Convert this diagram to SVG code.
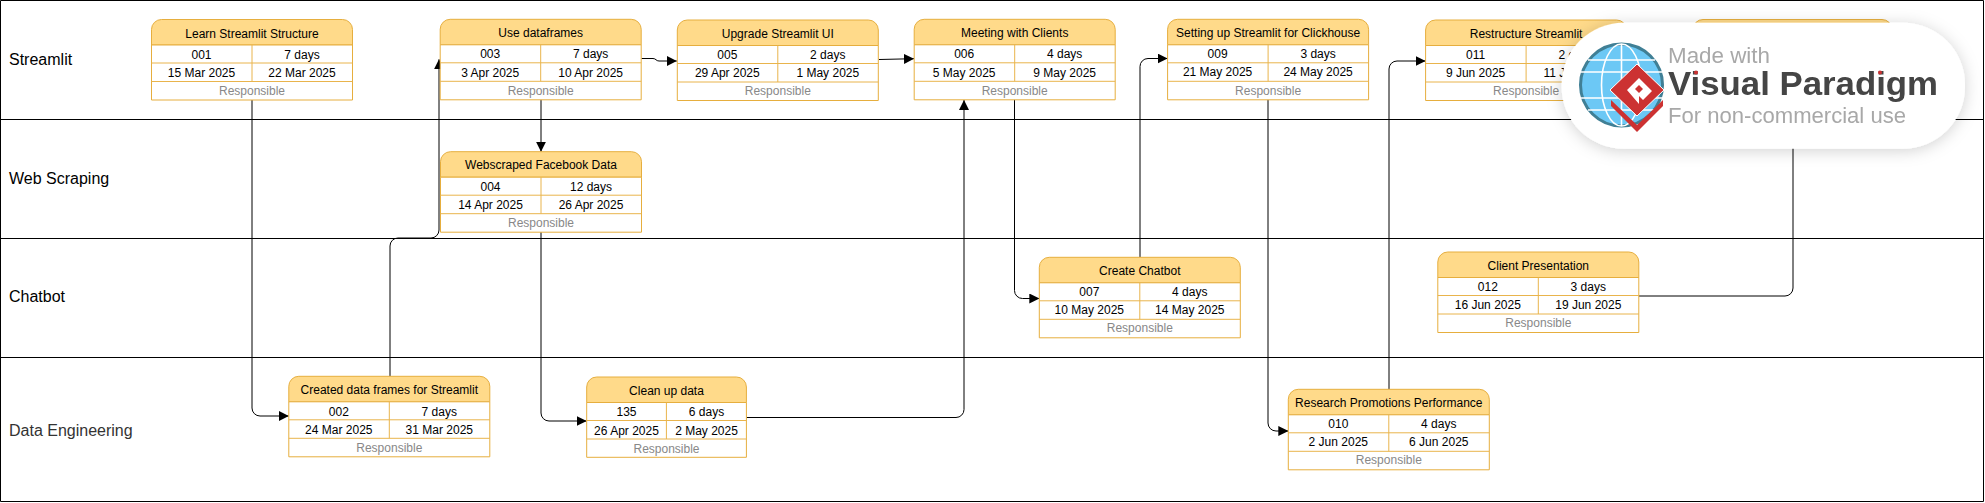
<svg xmlns="http://www.w3.org/2000/svg" width="1985" height="503" viewBox="0 0 1985 503">
<style>
text{font-family:"Liberation Sans",Arial,sans-serif;font-size:12px;fill:#000;text-anchor:middle}
.lane{font-size:16px;text-anchor:start}
.lane2{font-size:16px;text-anchor:start;fill:#333}
.resp{fill:#888}
.hd{fill:#ffda8a;stroke:#e6ae3e;stroke-width:1}
.bd{fill:#fff;stroke:#e6ae3e;stroke-width:1}
.dv{fill:none;stroke:#e9b44c;stroke-width:1}
.sl{fill:none;stroke:#000;stroke-width:1}
.cn{fill:none;stroke:#000;stroke-width:1;marker-end:url(#arrow)}
.wm{text-anchor:start;fill:#a8a8a8;font-size:22px}
.wmb{text-anchor:start;fill:#444;font-size:34px;font-weight:700}
</style>
<defs>
<marker id="arrow" markerUnits="userSpaceOnUse" markerWidth="10" markerHeight="10" refX="10" refY="5" orient="auto"><path d="M0 0L10 5L0 10Z" fill="#000"/></marker>
<filter id="shadow" x="-10%" y="-25%" width="120%" height="150%"><feDropShadow dx="0" dy="2" stdDeviation="8" flood-color="#000" flood-opacity="0.18"/></filter>
<filter id="soft" x="-5%" y="-5%" width="110%" height="110%"><feGaussianBlur stdDeviation="0.6"/></filter>
</defs>
<rect width="1985" height="503" fill="#fff"/>
<g id="swimlanes">
<path class="sl" d="M0.5 0.5H1983.5V501.5H0.5ZM0.5 119.5H1983.5M0.5 238.5H1983.5M0.5 357.5H1983.5"/>
<text class="lane" x="9" y="65">Streamlit</text>
<text class="lane" x="9" y="184">Web Scraping</text>
<text class="lane" x="9" y="302">Chatbot</text>
<text class="lane2" x="9" y="436">Data Engineering</text>
</g>
<g id="connectors">
<path class="cn" d="M252 100V408a8 8 0 0 0 8 8H288.8"/>
<path class="cn" d="M390 376.3V246a8 8 0 0 1 8-8H431a8 8 0 0 0 8-8V59.3"/>
<path class="cn" d="M641.5 58.5H653C656 58.5 656 61 659 61H676.8"/>
<path class="cn" d="M879 59.5L914 58.7"/>
<path class="cn" d="M541 99.5V151.7"/>
<path class="cn" d="M541 232V413a8 8 0 0 0 8 8H586.7"/>
<path class="cn" d="M746.4 417.5H956a8 8 0 0 0 8-8V100"/>
<path class="cn" d="M1014.5 99.5V290.5a8 8 0 0 0 8 8H1039.3"/>
<path class="cn" d="M1140 257.3V66.5a8 8 0 0 1 8-8H1167.6"/>
<path class="cn" d="M1268 99.5V423a8 8 0 0 0 8 8H1288.3"/>
<path class="cn" d="M1389 389.3V69a8 8 0 0 1 8-8H1425.6"/>
<path class="cn" d="M1638.3 296H1785a8 8 0 0 0 8-8V100"/>
</g>
<g id="n001" transform="translate(151.5 19.5)">
<path class="hd" d="M0 25.5V10a10 10 0 0 1 10-10H191a10 10 0 0 1 10 10V25.5Z"/><path class="bd" d="M0 25.5H201V80.5H0Z"/><path class="dv" d="M100.5 25.5V62M0 43.5H201M0 62H201"/>
<text x="100.5" y="18.2">Learn Streamlit Structure</text><text x="50" y="39.2">001</text><text x="150.5" y="39.2">7 days</text><text x="50" y="57.2">15 Mar 2025</text><text x="150.5" y="57.2">22 Mar 2025</text><text class="resp" x="100.5" y="75.2">Responsible</text>
</g>
<g id="n003" transform="translate(440.2 19.3)">
<path class="hd" d="M0 25.5V10a10 10 0 0 1 10-10H191a10 10 0 0 1 10 10V25.5Z"/><path class="bd" d="M0 25.5H201V80.5H0Z"/><path class="dv" d="M100.5 25.5V62M0 43.5H201M0 62H201"/>
<text x="100.5" y="17.5">Use dataframes</text><text x="50" y="38.5">003</text><text x="150.5" y="38.5">7 days</text><text x="50" y="57.5">3 Apr 2025</text><text x="150.5" y="57.5">10 Apr 2025</text><text class="resp" x="100.5" y="75.5">Responsible</text>
</g>
<g id="n004" transform="translate(440.5 151.7)">
<path class="hd" d="M0 25.5V10a10 10 0 0 1 10-10H191a10 10 0 0 1 10 10V25.5Z"/><path class="bd" d="M0 25.5H201V80.5H0Z"/><path class="dv" d="M100.5 25.5V62M0 43.5H201M0 62H201"/>
<text x="100.5" y="17.5">Webscraped Facebook Data</text><text x="50" y="39">004</text><text x="150.5" y="39">12 days</text><text x="50" y="57">14 Apr 2025</text><text x="150.5" y="57">26 Apr 2025</text><text class="resp" x="100.5" y="75">Responsible</text>
</g>
<g id="n005" transform="translate(677.3 20)">
<path class="hd" d="M0 25.5V10a10 10 0 0 1 10-10H191a10 10 0 0 1 10 10V25.5Z"/><path class="bd" d="M0 25.5H201V80.5H0Z"/><path class="dv" d="M100.5 25.5V62M0 43.5H201M0 62H201"/>
<text x="100.5" y="18">Upgrade Streamlit UI</text><text x="50" y="39">005</text><text x="150.5" y="39">2 days</text><text x="50" y="57">29 Apr 2025</text><text x="150.5" y="57">1 May 2025</text><text class="resp" x="100.5" y="75">Responsible</text>
</g>
<g id="n006" transform="translate(914.2 19.3)">
<path class="hd" d="M0 25.5V10a10 10 0 0 1 10-10H191a10 10 0 0 1 10 10V25.5Z"/><path class="bd" d="M0 25.5H201V80.5H0Z"/><path class="dv" d="M100.5 25.5V62M0 43.5H201M0 62H201"/>
<text x="100.5" y="17.5">Meeting with Clients</text><text x="50" y="38.5">006</text><text x="150.5" y="38.5">4 days</text><text x="50" y="57.5">5 May 2025</text><text x="150.5" y="57.5">9 May 2025</text><text class="resp" x="100.5" y="75.5">Responsible</text>
</g>
<g id="n009" transform="translate(1167.6 19.3)">
<path class="hd" d="M0 25.5V10a10 10 0 0 1 10-10H191a10 10 0 0 1 10 10V25.5Z"/><path class="bd" d="M0 25.5H201V80.5H0Z"/><path class="dv" d="M100.5 25.5V62M0 43.5H201M0 62H201"/>
<text x="100.5" y="17.5">Setting up Streamlit for Clickhouse</text><text x="50" y="38.5">009</text><text x="150.5" y="38.5">3 days</text><text x="50" y="56.5">21 May 2025</text><text x="150.5" y="56.5">24 May 2025</text><text class="resp" x="100.5" y="75.5">Responsible</text>
</g>
<g id="n011" transform="translate(1425.6 20)">
<path class="hd" d="M0 25.5V10a10 10 0 0 1 10-10H191a10 10 0 0 1 10 10V25.5Z"/><path class="bd" d="M0 25.5H201V80.5H0Z"/><path class="dv" d="M100.5 25.5V62M0 43.5H201M0 62H201"/>
<text x="100.5" y="18">Restructure Streamlit</text><text x="50" y="39">011</text><text x="150.5" y="39">2 days</text><text x="50" y="57">9 Jun 2025</text><text x="150.5" y="57">11 Jun 2025</text><text class="resp" x="100.5" y="75">Responsible</text>
</g>
<g id="n-covered" transform="translate(1693 19.5)">
<path class="hd" d="M0 25.5V10a10 10 0 0 1 10-10H189a10 10 0 0 1 10 10V25.5Z"/><path class="bd" d="M0 25.5H199V80.5H0Z"/>
</g>
<g id="n002" transform="translate(288.8 376.3)">
<path class="hd" d="M0 25.5V10a10 10 0 0 1 10-10H191a10 10 0 0 1 10 10V25.5Z"/><path class="bd" d="M0 25.5H201V80.5H0Z"/><path class="dv" d="M100.5 25.5V62M0 43.5H201M0 62H201"/>
<text x="100.5" y="17.5">Created data frames for Streamlit</text><text x="50" y="39.5">002</text><text x="150.5" y="39.5">7 days</text><text x="50" y="57.5">24 Mar 2025</text><text x="150.5" y="57.5">31 Mar 2025</text><text class="resp" x="100.5" y="75.5">Responsible</text>
</g>
<g id="n135" transform="translate(586.7 377)">
<path class="hd" d="M0 25.5V10a10 10 0 0 1 10-10H149.7a10 10 0 0 1 10 10V25.5Z"/><path class="bd" d="M0 25.5H159.7V80.3H0Z"/><path class="dv" d="M79.7 25.5V62M0 43.5H159.7M0 62H159.7"/>
<text x="79.8" y="18">Clean up data</text><text x="39.8" y="38.8">135</text><text x="119.8" y="38.8">6 days</text><text x="39.8" y="57.5">26 Apr 2025</text><text x="119.8" y="57.5">2 May 2025</text><text class="resp" x="79.8" y="75.5">Responsible</text>
</g>
<g id="n007" transform="translate(1039.3 257.3)">
<path class="hd" d="M0 25.5V10a10 10 0 0 1 10-10H191a10 10 0 0 1 10 10V25.5Z"/><path class="bd" d="M0 25.5H201V80.5H0Z"/><path class="dv" d="M100.5 25.5V62M0 43.5H201M0 62H201"/>
<text x="100.5" y="18">Create Chatbot</text><text x="50" y="39">007</text><text x="150.5" y="39">4 days</text><text x="50" y="57">10 May 2025</text><text x="150.5" y="57">14 May 2025</text><text class="resp" x="100.5" y="75">Responsible</text>
</g>
<g id="n012" transform="translate(1437.8 252)">
<path class="hd" d="M0 25.5V10a10 10 0 0 1 10-10H191a10 10 0 0 1 10 10V25.5Z"/><path class="bd" d="M0 25.5H201V80.5H0Z"/><path class="dv" d="M100.5 25.5V62M0 43.5H201M0 62H201"/>
<text x="100.5" y="18">Client Presentation</text><text x="50" y="39">012</text><text x="150.5" y="39">3 days</text><text x="50" y="57">16 Jun 2025</text><text x="150.5" y="57">19 Jun 2025</text><text class="resp" x="100.5" y="75">Responsible</text>
</g>
<g id="n010" transform="translate(1288.3 389.3)">
<path class="hd" d="M0 25.5V10a10 10 0 0 1 10-10H191a10 10 0 0 1 10 10V25.5Z"/><path class="bd" d="M0 25.5H201V80.5H0Z"/><path class="dv" d="M100.5 25.5V62M0 43.5H201M0 62H201"/>
<text x="100.5" y="18">Research Promotions Performance</text><text x="50" y="39">010</text><text x="150.5" y="39">4 days</text><text x="50" y="57">2 Jun 2025</text><text x="150.5" y="57">6 Jun 2025</text><text class="resp" x="100.5" y="75">Responsible</text>
</g>
<g id="watermark">
<rect x="1561.7" y="22.7" width="403.3" height="126" rx="62" fill="#fff" filter="url(#shadow)"/>
<g filter="url(#soft)">
<circle cx="1621.5" cy="85" r="41" fill="#6cc8f5" stroke="#3f7f95" stroke-width="3"/>
<path d="M1581 72H1662M1581 98H1662M1588 60H1655M1588 110H1655M1621.5 44V126" fill="none" stroke="#fff" stroke-width="1.6"/>
<ellipse cx="1621.5" cy="85" rx="20" ry="41" fill="none" stroke="#fff" stroke-width="1.6"/>
<path d="M1637 64L1664 90L1637 116L1610 90Z" fill="#cc3333" stroke="#fff" stroke-width="1"/>
<path d="M1627 90L1639 78L1652 91L1643 100L1639 96V104Z" fill="#fff"/>
<path d="M1639 85L1643 89L1639 93L1635 89Z" fill="#cc3333"/>
<path d="M1611 100L1637 125L1663 100V106L1637 132L1611 106Z" fill="#cc3333"/>
<text class="wm" x="1668" y="63" textLength="102" lengthAdjust="spacingAndGlyphs">Made with</text>
<text class="wmb" x="1668" y="95" textLength="270" lengthAdjust="spacingAndGlyphs">Visual Paradigm</text>
<text class="wm" x="1668" y="123" textLength="238" lengthAdjust="spacingAndGlyphs">For non-commercial use</text>
<circle cx="1696" cy="72.5" r="2" fill="#cc3333"/>
<circle cx="1880" cy="72.5" r="2" fill="#cc3333"/>
</g>
</g>
</svg>
